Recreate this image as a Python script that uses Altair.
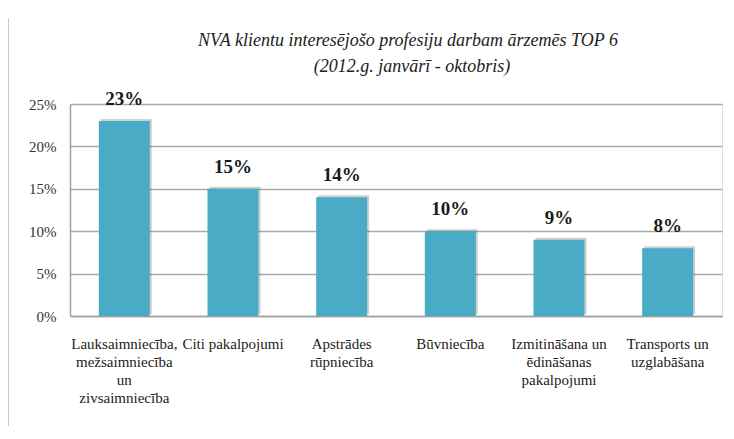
import altair as alt
import pandas as pd

categories = [
    "Lauksaimniecība,|mežsaimniecība|un|zivsaimniecība",
    "Citi pakalpojumi",
    "Apstrādes|rūpniecība",
    "Būvniecība",
    "Izmitināšana un|ēdināšanas|pakalpojumi",
    "Transports un|uzglabāšana",
]
values = [0.23, 0.15, 0.14, 0.10, 0.09, 0.08]
value_labels = ["23%", "15%", "14%", "10%", "9%", "8%"]
y_ticks = [0, 0.05, 0.10, 0.15, 0.20, 0.25]
title_lines = ["NVA klientu interesējošo profesiju darbam ārzemēs TOP 6", "(2012.g. janvārī - oktobris)"]

df = pd.DataFrame({"cat": categories, "val": values, "lbl": value_labels})

FONT = "'Liberation Serif', 'Times New Roman', 'DejaVu Serif', serif"

x_enc = alt.X(
    "cat:N",
    sort=categories,
    scale=alt.Scale(paddingInner=0, paddingOuter=0),
    axis=alt.Axis(
        title=None,
        labelAngle=0,
        labelExpr="split(datum.label, '|')",
        labelFont=FONT,
        labelFontSize=15,
        labelLineHeight=18,
        labelColor="#222222",
        labelPadding=20,
        labelLimit=0,
        ticks=False,
        domainColor="#a0a0a0",
        domainWidth=1.5,
        grid=False,
        labelBaseline="top",
    ),
)
y_enc = alt.Y(
    "val:Q",
    scale=alt.Scale(domain=[0, 0.25]),
    axis=alt.Axis(
        title=None,
        values=y_ticks,
        format=".0%",
        labelFont=FONT,
        labelFontSize=15,
        labelColor="#333333",
        labelPadding=14,
        ticks=False,
        domainColor="#a0a0a0",
        domainWidth=1.5,
        grid=True,
        gridColor="#aaaaaa",
        gridWidth=1.5,
    ),
)

base = alt.Chart(df)

shadow = base.mark_bar(size=51, color="#444444", opacity=0.25, xOffset=2, yOffset=-2).encode(
    x=x_enc, y=y_enc
)
bars = base.mark_bar(size=51, color="#4AABC6").encode(x=x_enc, y=y_enc)
text = base.mark_text(
    font=FONT, fontSize=19, fontWeight="bold", color="#1a1a1a", baseline="bottom", dy=-12
).encode(x=x_enc, y=y_enc, text="lbl:N")

title1 = alt.Chart(pd.DataFrame({"t": [title_lines[0]]})).mark_text(
    font=FONT, fontSize=18, fontStyle="italic", color="#222222", baseline="alphabetic", align="center"
).encode(text="t:N", x=alt.value(338), y=alt.value(-58))
title2 = alt.Chart(pd.DataFrame({"t": [title_lines[1]]})).mark_text(
    font=FONT, fontSize=18, fontStyle="italic", color="#222222", baseline="alphabetic", align="center"
).encode(text="t:N", x=alt.value(342), y=alt.value(-32))

border = alt.Chart(pd.DataFrame({"a": [0]})).mark_rule(color="#c8c8c8", strokeWidth=2).encode(
    x=alt.value(-62), y=alt.value(-86), y2=alt.value(340)
)

chart = (
    alt.layer(border, shadow, bars, text, title1, title2)
    .properties(
        width=652,
        height=212,
        autosize="none",
        padding={"left": 62, "top": 96, "right": 4, "bottom": 110},
    )
    .configure_view(stroke=None)
    .configure(background="white")
)

chart.save("out.html", embed_options={"renderer": "svg", "actions": False})
